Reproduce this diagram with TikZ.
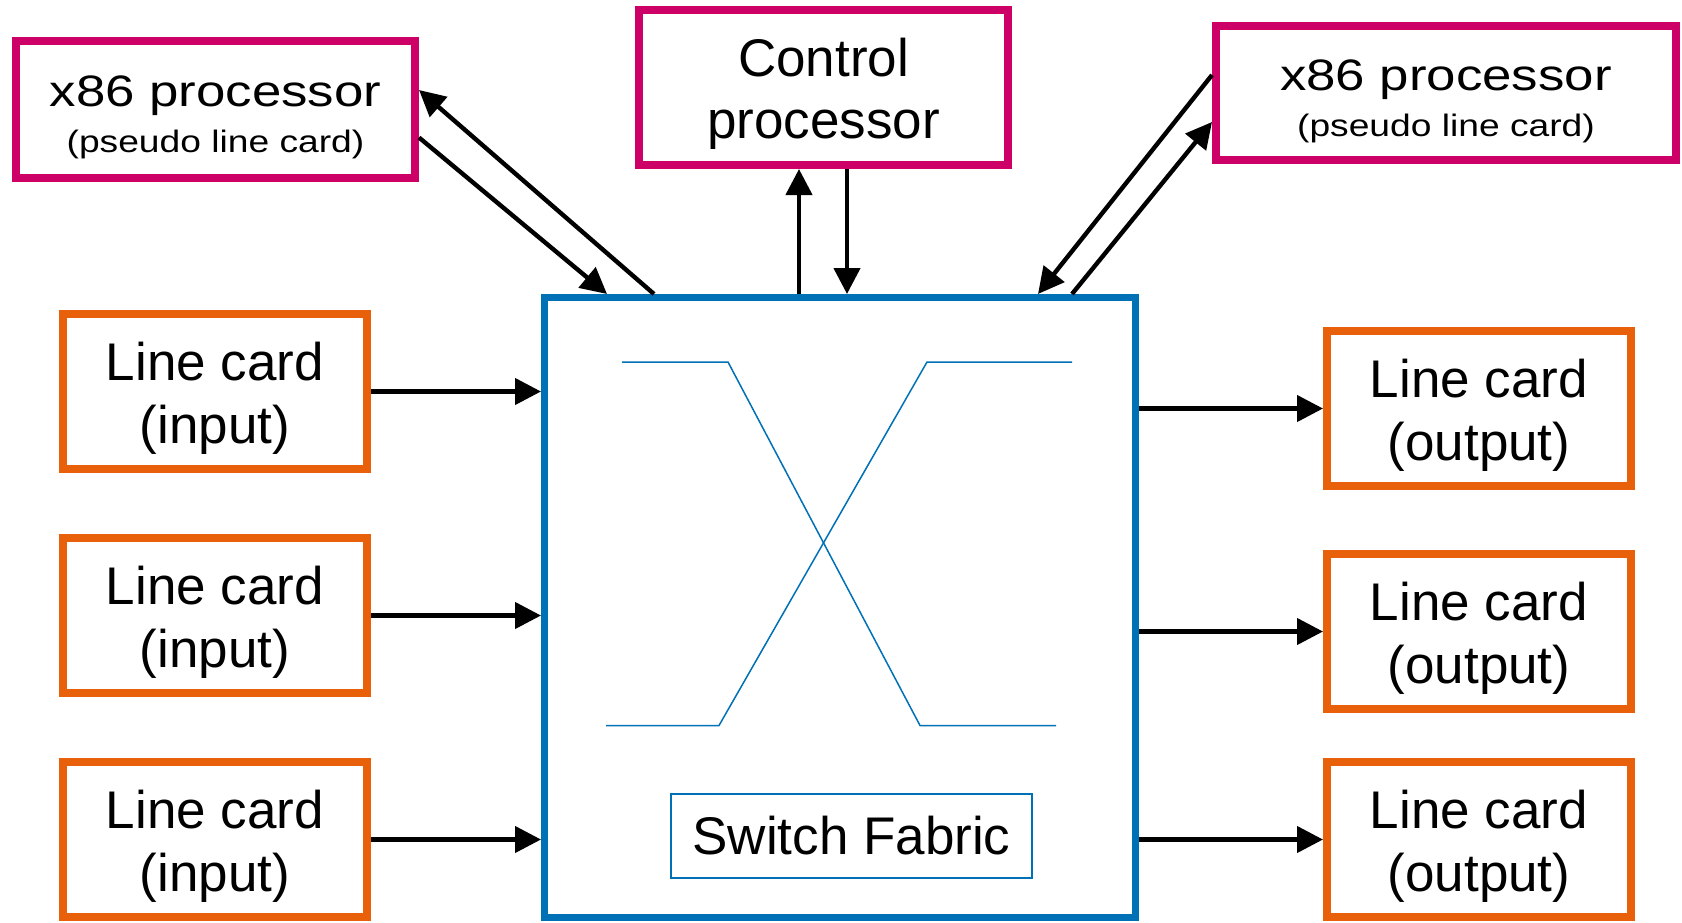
\documentclass[tikz,border=0pt]{standalone}
\usepackage{fontspec}
\setmainfont{Liberation Sans}
\newfontfamily\widesans[FakeStretch=1.2]{Liberation Sans}
\usetikzlibrary{arrows.meta}

\definecolor{procmag}{RGB}{204,0,102}
\definecolor{cardorange}{RGB}{232,96,10}
\definecolor{fabblue}{RGB}{0,112,183}

\begin{document}
\begin{tikzpicture}[x=0.5pt,y=-0.5pt]
    \useasboundingbox (0,0) rectangle (1682,922);

    \tikzstyle{proc} = [draw=procmag, rectangle, line width=4pt, inner sep=2pt,
    align=center]

    \tikzstyle{pseudo} = [proc, text height=46.5pt,
    font=\widesans\fontsize{22}{23}\selectfont]

    \tikzstyle{ctrl} = [proc, text height=56pt,
    font=\fontsize{26.5}{31}\selectfont]

    \tikzstyle{card} = [draw=cardorange, rectangle, line width=4pt, inner sep=2pt,
    align=center, minimum width=152pt, minimum height=77.5pt, text height=57pt,
    font=\fontsize{26.5}{31.5}\selectfont]

    \tikzstyle{fab} = [draw=fabblue, rectangle, line width=3.6pt]

    \tikzstyle{link} = [-{Triangle[length=13pt,width=13pt]}, line width=2.2pt]

    \draw
    (215.5,109.5) node [pseudo, minimum width=199.5pt, minimum height=68.5pt] (X1)
        {x86 processor\\{\fontsize{15.5}{18}\selectfont (pseudo line card)}}
    (823.5,87.5) node [ctrl, minimum width=184.5pt, minimum height=77.5pt] (CP)
        {Control\\processor}
    (1446,93) node [pseudo, minimum width=230pt, minimum height=67pt] (X2)
        {x86 processor\\{\fontsize{15.5}{18}\selectfont (pseudo line card)}}
    (840,607.5) node [fab, minimum width=295.4pt, minimum height=309.9pt] (SF) {}
    (851.5,836) node [draw=fabblue, line width=0.75pt, minimum width=180.5pt,
        minimum height=42pt, font=\fontsize{26.5}{31.5}\selectfont] (SL) {Switch Fabric}
    (215,391.5) node [card] (I1) {Line card\\(input)}
    (215,615.5) node [card] (I2) {Line card\\(input)}
    (215,839.5) node [card] (I3) {Line card\\(input)}
    (1479,408.5) node [card] (O1) {Line card\\(output)}
    (1479,631.5) node [card] (O2) {Line card\\(output)}
    (1479,839.5) node [card] (O3) {Line card\\(output)}
    ;

    % crossbar
    \draw [fabblue, line width=0.75pt] (622,362) -- (728,362) -- (920,725.5) -- (1056,725.5);
    \draw [fabblue, line width=0.75pt] (606,725.5) -- (719,725.5) -- (927,362) -- (1072,362);

    \draw [link] (I1.east) -- (I1.east -| SF.west);
    \draw [link] (I2.east) -- (I2.east -| SF.west);
    \draw [link] (I3.east) -- (I3.east -| SF.west);
    \draw [link] (SF.east |- O1.west) -- (O1.west);
    \draw [link] (SF.east |- O2.west) -- (O2.west);
    \draw [link] (SF.east |- O3.west) -- (O3.west);

    \draw [link] ([xshift=-20.5pt]SF.north) -- ([xshift=-20.5pt]SF.north |- CP.south);
    \draw [link] ([xshift=3.5pt]SF.north |- CP.south) -- ([xshift=3.5pt]SF.north);

    \draw [link] ([xshift=-93pt]SF.north) -- ([yshift=9.75pt]X1.east);
    \draw [link] ([yshift=-14pt]X1.east) -- ([xshift=-116.5pt]SF.north);
    \draw [link] ([yshift=9pt]X2.west) -- ([xshift=99pt]SF.north);
    \draw [link] ([xshift=116pt]SF.north) -- ([yshift=-14.5pt]X2.west);
  \end{tikzpicture}
\end{document}
